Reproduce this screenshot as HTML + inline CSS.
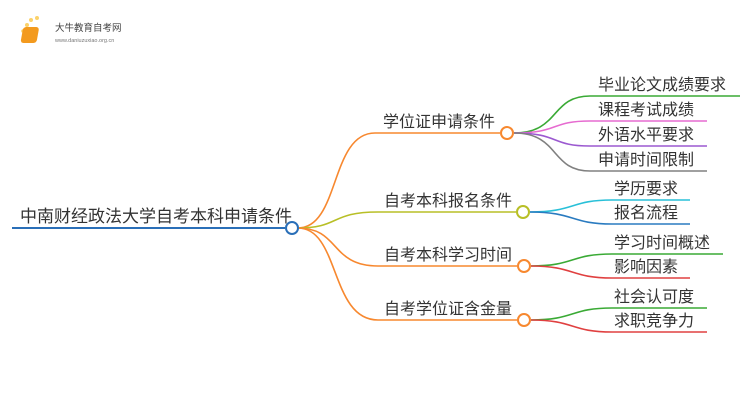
<!DOCTYPE html>
<html><head><meta charset="utf-8"><style>
body{margin:0;background:#fff;width:750px;height:410px;overflow:hidden}
svg text{font-family:"Liberation Sans","Noto Sans CJK SC",sans-serif;fill:#333}
</style></head><body>
<svg width="750" height="410" xmlns="http://www.w3.org/2000/svg">
<g>
<circle cx="27" cy="25" r="2" fill="#fbd26a"/><circle cx="31" cy="20" r="2" fill="#fbd26a"/><circle cx="37" cy="18" r="2" fill="#fbd26a"/><circle cx="23" cy="31" r="1.8" fill="#fbd26a"/><circle cx="23" cy="38" r="1.5" fill="#fbd26a"/>
<rect x="28" y="27" width="16" height="16" rx="3" fill="#f39a1e" transform="skewX(-10)"/>
<text x="55" y="31" font-size="9.5" style="fill:#444">大牛教育自考网</text>
<text x="55" y="42" font-size="5.5" style="fill:#777">www.daniuzuxiao.org.cn</text>
</g>
<g fill="none" stroke-width="1.6">
<line x1="12" y1="228" x2="285" y2="228" stroke="#2a6fb8" stroke-width="2"/>
<path d="M298 228 C340 228,330 133,375 133 L500 133" stroke="#f7882f"/>
<path d="M298 228 C340 228,330 212,378 212 L516 212" stroke="#b8bf26"/>
<path d="M298 228 C340 228,330 266,378 266 L517 266" stroke="#f7882f"/>
<path d="M298 228 C340 228,330 320,378 320 L517 320" stroke="#f7882f"/>
<path d="M514 133 C560 133,550 96,590 96 L740 96" stroke="#3aaa35"/>
<path d="M514 133 C560 133,550 121,590 121 L707 121" stroke="#e66bd0"/>
<path d="M514 133 C560 133,550 146,590 146 L707 146" stroke="#9b59d0"/>
<path d="M514 133 C560 133,550 171,590 171 L707 171" stroke="#808080"/>
<path d="M530 212 C575 212,570 200,612 200 L690 200" stroke="#29c0d8"/>
<path d="M530 212 C575 212,570 224,612 224 L690 224" stroke="#2a7bc0"/>
<path d="M531 266 C575 266,570 254,612 254 L723 254" stroke="#3aaa35"/>
<path d="M531 266 C575 266,570 278,612 278 L690 278" stroke="#e04040"/>
<path d="M531 320 C575 320,570 308,612 308 L707 308" stroke="#3aaa35"/>
<path d="M531 320 C575 320,570 332,612 332 L707 332" stroke="#e04040"/>
</g>
<circle cx="292" cy="228" r="6" fill="#fff" stroke="#2a6fb8" stroke-width="2"/>
<circle cx="507" cy="133" r="6" fill="#fff" stroke="#f7882f" stroke-width="2"/>
<circle cx="523" cy="212" r="6" fill="#fff" stroke="#b8bf26" stroke-width="2"/>
<circle cx="524" cy="266" r="6" fill="#fff" stroke="#f7882f" stroke-width="2"/>
<circle cx="524" cy="320" r="6" fill="#fff" stroke="#f7882f" stroke-width="2"/>
<text x="20" y="222" font-size="17">中南财经政法大学自考本科申请条件</text>
<text x="383" y="127" font-size="16">学位证申请条件</text>
<text x="384" y="206" font-size="16">自考本科报名条件</text>
<text x="384" y="260" font-size="16">自考本科学习时间</text>
<text x="384" y="314" font-size="16">自考学位证含金量</text>
<text x="598" y="90" font-size="16">毕业论文成绩要求</text>
<text x="598" y="115" font-size="16">课程考试成绩</text>
<text x="598" y="140" font-size="16">外语水平要求</text>
<text x="598" y="165" font-size="16">申请时间限制</text>
<text x="614" y="194" font-size="16">学历要求</text>
<text x="614" y="218" font-size="16">报名流程</text>
<text x="614" y="248" font-size="16">学习时间概述</text>
<text x="614" y="272" font-size="16">影响因素</text>
<text x="614" y="302" font-size="16">社会认可度</text>
<text x="614" y="326" font-size="16">求职竞争力</text>
</svg>
</body></html>
